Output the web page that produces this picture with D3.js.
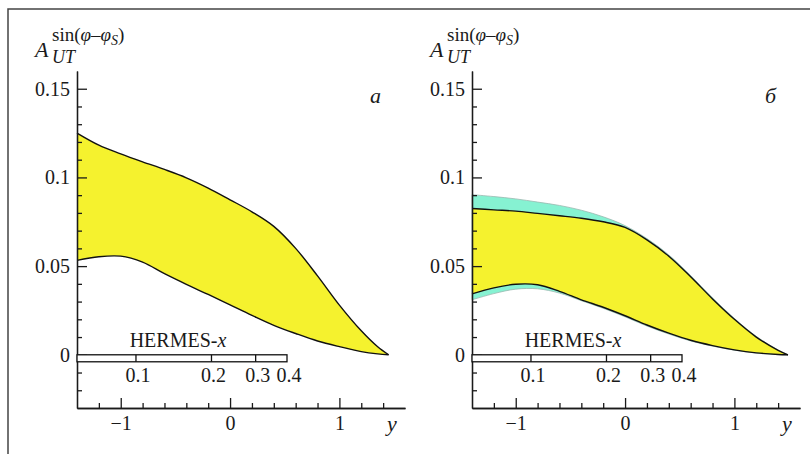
<!DOCTYPE html>
<html>
<head>
<meta charset="utf-8">
<script src="https://cdn.jsdelivr.net/npm/d3@7"></script>
<style>
  html, body { margin: 0; padding: 0; background: #fff; }
  svg text { font-family: "Liberation Serif", "Times New Roman", Times, serif !important; fill: #1a1a1a; }
  .axis path, .axis line { stroke: #1a1a1a; stroke-width: 1.3; }
  .axis text { font-size: 20px; }
</style>
</head>
<body>
<div id="chart"></div>
<script>
// rapidity y samples and asymmetry bands
var leftY = [-1.4, -1.2, -1.0, -0.8, -0.6, -0.4, -0.2, 0, 0.2, 0.4, 0.6, 0.8, 1.0, 1.2, 1.35, 1.45];
var leftUpper = [0.125, 0.1182, 0.1133, 0.1088, 0.1045, 0.0998, 0.0940, 0.0874, 0.0806, 0.0724, 0.0600, 0.0445, 0.0280, 0.0135, 0.0045, 0];
var leftLower = [0.0532, 0.0553, 0.0556, 0.0522, 0.0457, 0.0397, 0.0340, 0.0281, 0.0222, 0.0166, 0.0120, 0.0078, 0.0046, 0.0018, 0.0005, 0];

var rightY = [-1.4, -1.2, -1.0, -0.8, -0.6, -0.4, -0.2, 0, 0.2, 0.4, 0.6, 0.8, 1.0, 1.2, 1.4, 1.49];
var rightUpper = [0.0825, 0.0817, 0.0810, 0.0797, 0.0784, 0.0770, 0.0750, 0.0718, 0.0648, 0.0556, 0.0440, 0.0315, 0.0200, 0.0100, 0.0025, 0];
var rightLower = [0.0343, 0.0377, 0.0398, 0.0395, 0.0358, 0.0310, 0.0268, 0.0220, 0.0168, 0.0122, 0.0082, 0.0052, 0.0028, 0.0011, 0.0002, 0];
var rightCyanUpper = [0.0903, 0.0892, 0.0879, 0.0861, 0.0842, 0.0815, 0.0778, 0.0728, 0.0655, 0.0563, 0.0447, 0.0321, 0.0205, 0.0104, 0.0027, 0];
var rightCyanLower = [0.0310, 0.0345, 0.0370, 0.0372, 0.0348, 0.0305, 0.0262, 0.0214, 0.0162, 0.0117, 0.0078, 0.0049, 0.0026, 0.0010, 0.0001, 0];

var yMajor = [0, 0.05, 0.1, 0.15];
var yMajorLabels = ["0", "0.05", "0.1", "0.15"];
var yMinor = [-0.02, -0.01, 0.01, 0.02, 0.03, 0.04, 0.06, 0.07, 0.08, 0.09, 0.11, 0.12, 0.13, 0.14];
var xMajor = [-1, 0, 1];
var xMajorLabels = ["\u22121", "0", "1"];
var xMinor = [-1.2, -0.8, -0.6, -0.4, -0.2, 0.2, 0.4, 0.6, 0.8, 1.2, 1.4];
var hermesTicks = [0.1, 0.2, 0.3, 0.4];
var hermesLabels = ["0.1", "0.2", "0.3", "0.4"];

var width = 810, height = 454;
var serif = "'Liberation Serif', 'Times New Roman', serif";

var svg = d3.select("#chart").append("svg")
    .attr("width", width)
    .attr("height", height);

// page frame (top and left edges only)
svg.append("path")
    .attr("d", "M8,454 L8,9 L810,9")
    .attr("fill", "none")
    .attr("stroke", "#444")
    .attr("stroke-width", 1.5);

function drawPanel(x0, ys, upper, lower, cyanUp, cyanLo, letter) {
    var x = d3.scaleLinear().domain([-1.4, 1.6]).range([x0, x0 + 328]);
    var y = d3.scaleLinear().domain([-0.03, 0.16]).range([408, 71]);
    var hx = d3.scaleLog().domain([0.0582, 0.4]).range([x0, x0 + 210]);
    var curve = d3.curveCatmullRom.alpha(0.5);

    var g = svg.append("g").attr("font-family", serif);

    if (cyanUp) {
        var cyanArea = d3.area()
            .x(function (d, i) { return x(ys[i]); })
            .y0(function (d, i) { return y(cyanLo[i]); })
            .y1(function (d) { return y(d); })
            .curve(curve);
        g.append("path")
            .attr("d", cyanArea(cyanUp))
            .attr("fill", "#86f2d2")
            .attr("stroke", "#9ab8b0")
            .attr("stroke-width", 0.8);
    }

    var band = d3.area()
        .x(function (d, i) { return x(ys[i]); })
        .y0(function (d, i) { return y(lower[i]); })
        .y1(function (d) { return y(d); })
        .curve(curve);
    g.append("path")
        .attr("d", band(upper))
        .attr("fill", "#f5f22e");

    var line = d3.line()
        .x(function (d, i) { return x(ys[i]); })
        .y(function (d) { return y(d); })
        .curve(curve);
    [upper, lower].forEach(function (s) {
        g.append("path")
            .attr("d", line(s))
            .attr("fill", "none")
            .attr("stroke", "#111")
            .attr("stroke-width", 1.4);
    });

    // axes, ticks pointing inside
    g.append("g").attr("class", "axis")
        .attr("transform", "translate(" + x0 + ",0)")
        .call(d3.axisLeft(y).tickValues(yMinor).tickSize(-5).tickSizeOuter(0).tickFormat(""));
    g.append("g").attr("class", "axis")
        .attr("transform", "translate(" + x0 + ",0)")
        .call(d3.axisLeft(y).tickValues(yMajor).tickSize(-10).tickSizeOuter(0).tickPadding(7)
            .tickFormat(function (d, i) { return yMajorLabels[i]; }));
    g.append("g").attr("class", "axis")
        .attr("transform", "translate(0,408)")
        .call(d3.axisBottom(x).tickValues(xMinor).tickSize(-5).tickSizeOuter(0).tickFormat(""));
    g.append("g").attr("class", "axis")
        .attr("transform", "translate(0,408)")
        .call(d3.axisBottom(x).tickValues(xMajor).tickSize(-10).tickSizeOuter(0).tickPadding(8)
            .tickFormat(function (d, i) { return xMajorLabels[i]; }));
    g.selectAll(".axis").attr("font-family", serif);
    g.selectAll(".axis .domain").attr("stroke-width", 1.4);

    g.append("text")
        .attr("x", x0 + 310)
        .attr("y", 431)
        .attr("font-size", 22)
        .attr("font-style", "italic")
        .text("y");

    // HERMES-x bar
    var barTop = y(0);
    g.append("rect")
        .attr("x", hx(0.0582))
        .attr("y", barTop)
        .attr("width", hx(0.4) - hx(0.0582))
        .attr("height", 7)
        .attr("fill", "#fff")
        .attr("stroke", "#111")
        .attr("stroke-width", 1.3);
    g.selectAll(".htick")
        .data(hermesTicks.slice(0, 3))
        .enter().append("line")
        .attr("x1", function (d) { return hx(d); })
        .attr("x2", function (d) { return hx(d); })
        .attr("y1", barTop)
        .attr("y2", barTop + 7)
        .attr("stroke", "#111")
        .attr("stroke-width", 1.3);
    g.selectAll(".hlab")
        .data(hermesTicks)
        .enter().append("text")
        .attr("x", function (d) { return hx(d) + 2; })
        .attr("y", barTop + 27)
        .attr("text-anchor", "middle")
        .attr("font-size", 20)
        .text(function (d, i) { return hermesLabels[i]; });
    var ht = g.append("text")
        .attr("x", x0 + 101)
        .attr("y", barTop - 8)
        .attr("text-anchor", "middle")
        .attr("font-size", 20);
    ht.append("tspan").text("HERMES-");
    ht.append("tspan").attr("font-style", "italic").text("x");

    // axis title A_UT^{sin(phi - phi_S)}
    var tx = x0 - 42;
    g.append("text")
        .attr("x", tx)
        .attr("y", 57)
        .attr("font-size", 22)
        .attr("font-style", "italic")
        .text("A");
    g.append("text")
        .attr("x", tx + 17)
        .attr("y", 63)
        .attr("font-size", 18)
        .attr("font-style", "italic")
        .text("UT");
    var sup = g.append("text")
        .attr("x", tx + 17)
        .attr("y", 41)
        .attr("font-size", 19);
    sup.append("tspan").text("sin(");
    sup.append("tspan").attr("font-style", "italic").text("\u03c6");
    sup.append("tspan").text("\u2013");
    sup.append("tspan").attr("font-style", "italic").text("\u03c6");
    sup.append("tspan").attr("font-style", "italic").attr("font-size", 14).attr("dy", 4).text("S");
    sup.append("tspan").attr("dy", -4).text(")");

    g.append("text")
        .attr("x", x0 + 293)
        .attr("y", 103)
        .attr("font-size", 22)
        .attr("font-style", "italic")
        .text(letter);
}

drawPanel(77, leftY, leftUpper, leftLower, null, null, "a");
drawPanel(472, rightY, rightUpper, rightLower, rightCyanUpper, rightCyanLower, "\u0431");
</script>
</body>
</html>
